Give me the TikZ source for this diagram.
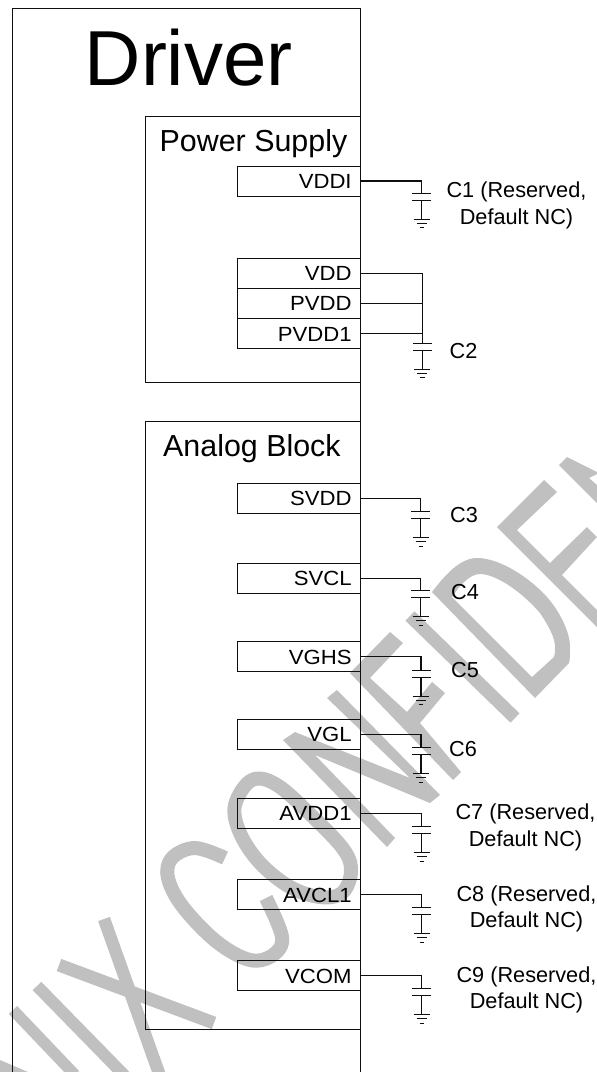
\documentclass[tikz,border=0pt]{standalone}
\usepackage{fontspec}
\setmainfont{Liberation Sans}
\newfontfamily\widesans[FakeStretch=1.08]{Liberation Sans}
\definecolor{wm}{RGB}{192,192,192}
\definecolor{ink}{RGB}{15,15,15}
\newcommand{\capgnd}[3]{%
  \coordinate (#1) at (#2,-#3);
  \draw[plate] (#2-9.5,-#3) -- (#2+9.5,-#3);
  \draw[plate] (#2-9.5,-#3-7) -- (#2+9.5,-#3-7);
  \draw[plate,line width=1.2pt] (#2,-#3-7) -- (#2,-#3-26);
  \draw[plate] (#2-8,-#3-26) -- (#2+8,-#3-26);
  \draw[plate] (#2-5,-#3-30.2) -- (#2+5,-#3-30.2);
  \draw[plate] (#2-2.2,-#3-34.5) -- (#2+2.2,-#3-34.5);
}
\tikzset{
  x=1pt,y=1pt,
  outline/.style={draw=ink,line width=0.9pt},
  plate/.style={draw=ink,line width=1pt},
  wire/.style={draw=ink,line width=1.2pt},
  block/.style={draw=ink,line width=0.9pt,rectangle,inner sep=0pt,minimum width=214.6pt},
  pinbox/.style={draw=ink,line width=0.9pt,rectangle,inner ysep=0pt,inner xsep=8.5pt,
    text width=105.7pt,align=right,minimum height=30pt,text height=14.6pt,text depth=0pt,
    text=black,font=\widesans\fontsize{20.5}{24}\selectfont},
  heading/.style={anchor=base west,inner sep=0pt,text=black,font=\fontsize{30.4}{34}\selectfont},
  caplabel/.style={anchor=base west,inner sep=0pt,text=black,font=\fontsize{21.7}{26}\selectfont},
  capnote/.style={inner sep=0pt,align=center,text=black,font=\fontsize{21.7}{26.4}\selectfont},
  markfill/.style={fill=wm,draw=none},
  markline/.style={draw=wm,line cap=butt,line join=round},
}
\begin{document}
\begin{tikzpicture}
\useasboundingbox (0,0) rectangle (597,-1072);
% watermark
\begin{scope}
\clip (0,0) rectangle (597,-1072);
\fill[markfill] (0,-1060) -- (28,-1072) -- (0,-1072) -- cycle;
\draw[markline,line width=11.5pt] (13,-1010) -- (75,-1075);
\draw[markline,line width=12pt] (37,-986) -- (125,-1076);
\draw[markline,line width=12.5pt] (104,-919) -- (160,-1076);
\draw[markline,line width=13pt] (59,-965) -- (214,-1023);
% C
\draw[markline,line width=14pt] plot[smooth,tension=0.6] coordinates {(225,-858) (195,-848) (172,-858) (168,-878) (183,-907) (217,-942) (250,-960) (273,-955) (282,-937) (266,-898)};
% O
\draw[markline,line width=14pt] plot[smooth cycle,tension=0.6] coordinates {(235,-805) (240,-833) (260,-863) (290,-887) (320,-897) (342,-893) (351,-872) (344,-850) (313,-817) (277,-785) (252,-780)};
% N
\fill[markfill] (283,-740) -- (387,-847) -- (395,-838) -- (315,-755) -- (430,-803) -- (440,-795) -- (337,-690) -- (327,-698) -- (410,-778) -- (295,-732) -- cycle;
% F
\fill[markfill] (390,-632) -- (403,-643) -- (370,-678) -- (407,-712) -- (432,-682) -- (445,-693) -- (420,-723) -- (461,-772) -- (453,-780) -- (350,-673) -- cycle;
% I
\draw[markline,line width=13pt] (410,-616) -- (515,-718);
% D
\fill[markfill,even odd rule]
  (432,-592) .. controls (445,-575) and (460,-558) .. (477,-558)
  .. controls (500,-558) and (530,-578) .. (547,-597)
  .. controls (560,-612) and (570,-632) .. (570,-647)
  .. controls (570,-655) and (570,-660) .. (569,-663)
  -- (535,-698) -- cycle
  (452,-597) .. controls (460,-585) and (470,-574) .. (480,-574)
  .. controls (495,-574) and (520,-590) .. (540,-613)
  .. controls (548,-625) and (555,-637) .. (555,-647)
  .. controls (555,-652) and (555,-655) .. (554,-657)
  -- (532,-677) -- cycle;
% E
\fill[markfill] (544,-480) -- (557,-492) -- (517,-530) -- (550,-563) -- (587,-527) -- (597,-537) -- (562,-575) -- (597,-610) -- (597,-627) -- (497,-527) -- cycle;
% N, top right
\fill[markfill] (559,-465) -- (567,-457) -- (597,-472) -- (597,-474) -- (589,-478) -- (597,-485) -- (597,-503) -- cycle;
\end{scope}
% outer driver box
\draw[outline] (12,-1072) -- (12,-8) -- (360.3,-8) -- (360.3,-1072);
\node[anchor=base west,inner sep=0pt,text=black,font=\fontsize{78}{80}\selectfont] (driver) at (84.5,-85) {Driver};
% blocks
\node[block,minimum height=266pt] (power) at (253,-249.7) {};
\node[block,minimum height=607.3pt] (analog) at (253,-725.4) {};
\node[heading] (powertitle) at (159.5,-151.7) {Power Supply};
\node[heading] (analogtitle) at (163,-456.7) {Analog Block};
% pins
\node[pinbox] (vddi) at (298.8,-181) {VDDI};
\node[pinbox] (vdd) at (298.8,-273.3) {VDD};
\node[pinbox] (pvdd) at (298.8,-303.6) {PVDD};
\node[pinbox] (pvddone) at (298.8,-333.8) {PVDD1};
\node[pinbox] (svdd) at (298.8,-498.3) {SVDD};
\node[pinbox] (svcl) at (298.8,-578.3) {SVCL};
\node[pinbox] (vghs) at (298.8,-656.7) {VGHS};
\node[pinbox] (vgl) at (298.8,-734.3) {VGL};
\node[pinbox] (avddone) at (298.8,-813.3) {AVDD1};
\node[pinbox] (avclone) at (298.8,-894.7) {AVCL1};
\node[pinbox] (vcom) at (298.8,-975.7) {VCOM};
% capacitors
\capgnd{cone}{421.7}{193.3}
\capgnd{ctwo}{422.3}{343.3}
\capgnd{cthree}{420.7}{511.7}
\capgnd{cfour}{420.7}{590.7}
\capgnd{cfive}{421}{670}
\capgnd{csix}{421}{747.7}
\capgnd{cseven}{421.7}{826.7}
\capgnd{ceight}{421.7}{907.7}
\capgnd{cnine}{421.7}{988.7}
% connectors
\draw[wire] (vddi.east) -| (cone);
\draw[wire] (vdd.east) -| (ctwo);
\draw[wire] (pvdd.east) -- (pvdd.east -| ctwo);
\draw[wire] (pvddone.east) -- (pvddone.east -| ctwo);
\draw[wire] (svdd.east) -| (cthree);
\draw[wire] (svcl.east) -| (cfour);
\draw[wire] (vghs.east) -| (cfive);
\draw[wire] (vgl.east) -| (csix);
\draw[wire] (avddone.east) -| (cseven);
\draw[wire] (avclone.east) -| (ceight);
\draw[wire] (vcom.east) -| (cnine);
% capacitor labels
\node[capnote] (lone) at (516.5,-205.5) {C1 (Reserved,\\Default NC)};
\node[caplabel] (ltwo) at (449.5,-358) {C2};
\node[caplabel] (lthree) at (450,-522) {C3};
\node[caplabel] (lfour) at (451,-599) {C4};
\node[caplabel] (lfive) at (451,-677.3) {C5};
\node[caplabel] (lsix) at (449,-756) {C6};
\node[capnote] (lseven) at (525.5,-827.5) {C7 (Reserved,\\Default NC)};
\node[capnote] (leight) at (526.5,-909) {C8 (Reserved,\\Default NC)};
\node[capnote] (lnine) at (526.5,-990) {C9 (Reserved,\\Default NC)};
\end{tikzpicture}
\end{document}
